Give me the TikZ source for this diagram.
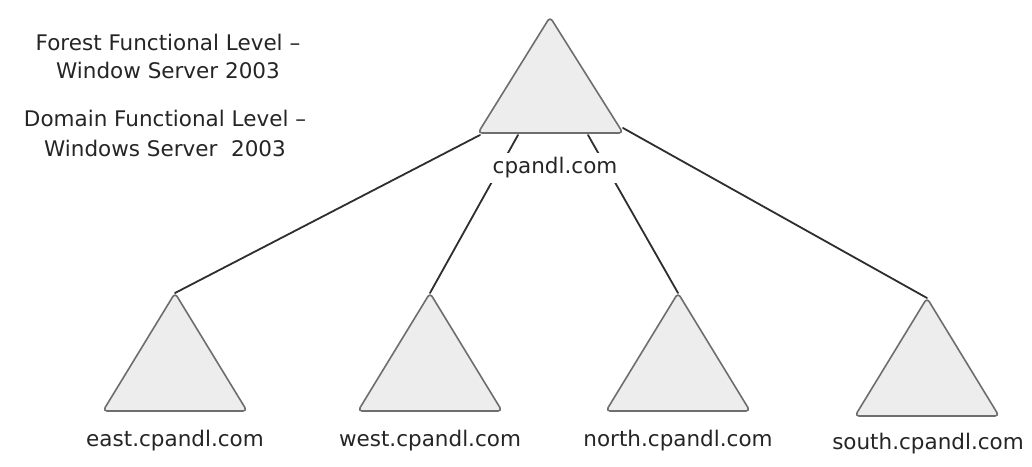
\documentclass[tikz,border=0pt]{standalone}
\usepackage{fontspec}
\setmainfont{DejaVu Sans}
\usepackage{xcolor}
\usepackage{tikz}
\definecolor{trifill}{HTML}{EDEDED}
\definecolor{triedge}{HTML}{6E6E6E}
\definecolor{linkc}{HTML}{2E2E2E}
\definecolor{txt}{HTML}{252525}
\tikzset{
  tri/.style={draw=triedge, fill=trifill, line width=1.6pt, rounded corners=4pt, line join=round},
  link/.style={draw=linkc, line width=1.8pt, line cap=round},
  lab/.style={text=txt, font=\fontsize{21.5}{25}\selectfont, inner sep=0pt},
}

\begin{document}
\begin{tikzpicture}[x=1pt,y=-1pt]
  \useasboundingbox[fill=white] (0,0) rectangle (1032,466);
  % root domain
  \coordinate (root-a) at (550,17);
  \coordinate (root-l) at (478,133);
  \coordinate (root-r) at (623,133);
  \draw[tri] (root-a) -- (root-r) -- (root-l) -- cycle;
  % child domains
  \foreach \n/\x/\y in {east/175/293, west/430/293, north/678/293, south/927/298}{
    \coordinate (\n-a) at (\x,\y);
    \draw[tri] (\n-a) -- ++(72,118) -- ++(-144,0) -- cycle;
  }
  % links
  \coordinate (root-m1) at (518,135);
  \coordinate (root-m2) at (588,135);
  \coordinate (root-r1) at (623,128);
  \draw[link] (root-l) ++(2,2) coordinate (root-l1) -- (east-a);
  \draw[link] (root-m1) -- (west-a);
  \draw[link] (root-m2) -- (north-a);
  \draw[link] (root-r1) -- (south-a);
  % labels
  \node[lab, fill=white, inner xsep=3pt, inner ysep=5pt] (root-lab) at (555,168) {cpandl.com};
  \node[lab] (east-lab) at (175,441) {east.cpandl.com};
  \node[lab] (west-lab) at (430,441) {west.cpandl.com};
  \node[lab] (north-lab) at (678,441) {north.cpandl.com};
  \node[lab] (south-lab) at (928,444) {south.cpandl.com};
  \node[lab] (forest) at (168,42) {Forest Functional Level --};
  \node[lab] (forest2) at (168,70) {Window Server 2003};
  \node[lab] (domain) at (165,118) {Domain Functional Level --};
  \node[lab] (domain2) at (165,148) {Windows Server\ \ 2003};
\end{tikzpicture}
\end{document}
